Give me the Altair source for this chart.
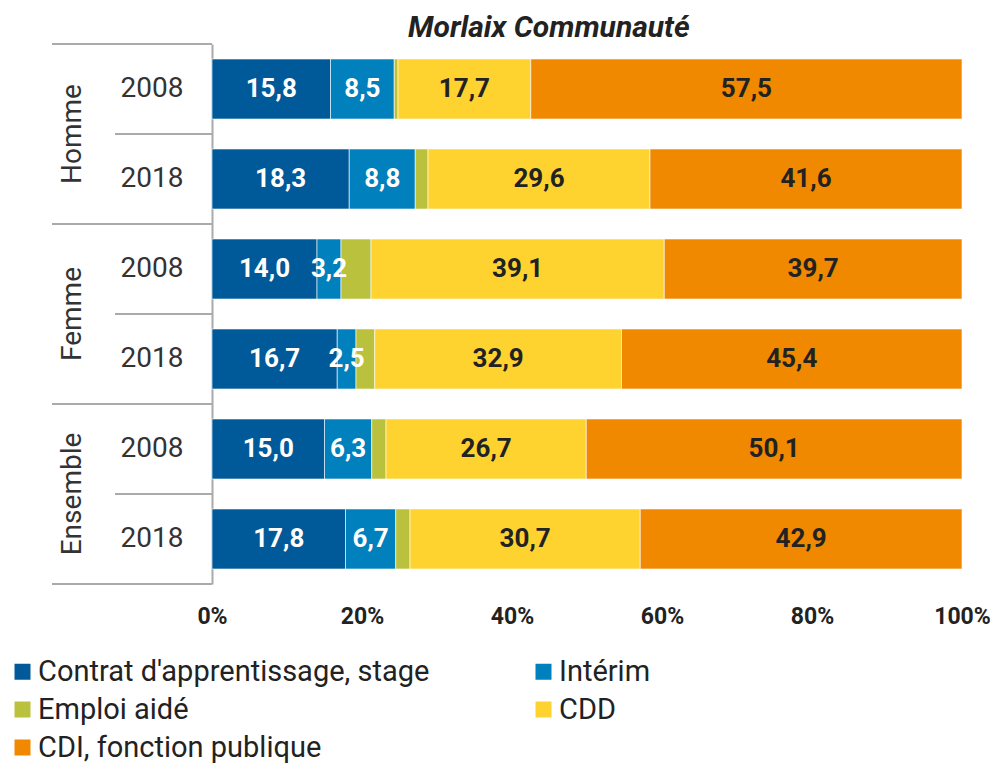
import altair as alt
import pandas as pd

groups = ["Homme", "Homme", "Femme", "Femme", "Ensemble", "Ensemble"]
years = ["2008", "2018", "2008", "2018", "2008", "2018"]
categories = ["Contrat d'apprentissage, stage", "Intérim", "Emploi aidé", "CDD", "CDI, fonction publique"]
colors = ["#005a99", "#0080bd", "#bac13c", "#fed32f", "#f08800"]

apprentissage = [15.8, 18.3, 14.0, 16.7, 15.0, 17.8]
interim = [8.5, 8.8, 3.2, 2.5, 6.3, 6.7]
emploi_aide = [0.5, 1.7, 4.0, 2.5, 1.9, 1.9]
cdd = [17.7, 29.6, 39.1, 32.9, 26.7, 30.7]
cdi = [57.5, 41.6, 39.7, 45.4, 50.1, 42.9]
series = [apprentissage, interim, emploi_aide, cdd, cdi]

row_keys = [g + " " + y for g, y in zip(groups, years)]
rows_df = pd.DataFrame({"row": row_keys, "group": groups, "year": years})

long_rows = []
for ci, (cat, vals) in enumerate(zip(categories, series)):
    for rk, v in zip(row_keys, vals):
        long_rows.append({"row": rk, "cat": cat, "ord": ci, "value": v})
long_df = pd.DataFrame(long_rows)

# legend is filled column by column: order entries so rows read left to right
legend_order = [categories[0], categories[2], categories[4], categories[1], categories[3]]

FONT = "Roboto"
LINE = "#aaaaaa"
H = 540

left_scale = alt.Scale(paddingInner=0, paddingOuter=0)
xl_scale = alt.Scale(domain=[0, 1], nice=False, zero=False)


def ly(band):
    return alt.Y("row:N", sort=row_keys, scale=left_scale, axis=None, bandPosition=band)


def lx(v):
    return alt.XDatum(v, type="quantitative", scale=xl_scale, axis=None)


lbase = alt.Chart(rows_df)
first_rows = lbase.transform_filter("datum.year == '2008'")

group_top = first_rows.mark_rule(color=LINE, strokeWidth=2).encode(
    y=ly(0), x=lx(0), x2=alt.datum(1)
)
bottom_rule = lbase.transform_filter("datum.row == 'Ensemble 2018'").mark_rule(
    color=LINE, strokeWidth=2
).encode(y=ly(1), x=lx(0), x2=alt.datum(1))
year_sep = first_rows.mark_rule(color=LINE, strokeWidth=2).encode(
    y=ly(1), x=lx(0.394), x2=alt.datum(1)
)
group_text = first_rows.mark_text(
    angle=270, font=FONT, fontSize=28, color="#333333", align="center", baseline="middle"
).encode(y=ly(1), x=lx(0.13), text="group:N")
year_text = lbase.mark_text(
    font=FONT, fontSize=28, color="#333333", align="center", baseline="middle"
).encode(y=ly(0.5), x=lx(0.625), text="year:N")

left = alt.layer(group_top, bottom_rule, year_sep, group_text, year_text).properties(
    width=160, height=H
)

right_y = alt.Y(
    "row:N",
    sort=row_keys,
    scale=alt.Scale(paddingInner=0.333, paddingOuter=0.1667),
    axis=alt.Axis(labels=False, ticks=False, title=None, domainColor=LINE, domainWidth=2),
)
xr = alt.X(
    "x0:Q",
    scale=alt.Scale(domain=[0, 100], nice=False),
    axis=alt.Axis(
        values=[0, 20, 40, 60, 80, 100],
        labelExpr="datum.value + '%'",
        title=None,
        domain=False,
        ticks=False,
        tickSize=0,
        grid=False,
        labelFont=FONT,
        labelFontSize=23,
        labelFontWeight="bold",
        labelColor="#222222",
        labelPadding=21,
        labelFlush=False,
    ),
)

stacked = alt.Chart(long_df).transform_stack(
    stack="value", groupby=["row"], sort=[alt.SortField("ord")], as_=["x0", "x1"]
)

bars = stacked.mark_bar(stroke="white", strokeWidth=0.6).encode(
    y=right_y,
    x=xr,
    x2="x1:Q",
    color=alt.Color(
        "cat:N",
        scale=alt.Scale(domain=categories, range=colors),
        sort=categories,
        legend=alt.Legend(
            title=None,
            values=legend_order,
            orient="none",
            legendX=-44,
            legendY=613,
            columns=2,
            columnPadding=99,
            rowPadding=8,
            padding=0,
            symbolType="square",
            symbolSize=256,
            symbolStrokeWidth=0,
            labelFont=FONT,
            labelFontSize=29,
            labelColor="#222222",
            labelLimit=600,
            labelOffset=1,
        ),
    ),
)

labels = stacked.transform_filter("datum.cat != 'Emploi aidé'").transform_calculate(
    mid="(datum.x0 + datum.x1) / 2",
    label="replace(format(datum.value, '.1f'), '.', ',')",
).mark_text(font=FONT, fontSize=26, fontWeight="bold", align="center", baseline="middle").encode(
    y=right_y,
    x=alt.X("mid:Q"),
    text="label:N",
    color=alt.condition("datum.ord <= 1", alt.value("white"), alt.value("#222222")),
)

right = alt.layer(bars, labels).properties(width=750, height=H)

chart = (
    alt.hconcat(left, right, spacing=0, bounds="flush")
    .properties(
        title=alt.Title(
            "Morlaix Communauté",
            font=FONT,
            fontSize=30,
            fontWeight="bold",
            fontStyle="italic",
            color="#222222",
            anchor="start",
            frame="group",
            baseline="top",
            dx=356,
            offset=0,
        ),
        padding={"left": 0, "top": 5, "right": 0, "bottom": 0},
    )
    .configure_view(stroke=None)
)

chart.save("out.html", embed_options={"renderer": "svg", "actions": False})
